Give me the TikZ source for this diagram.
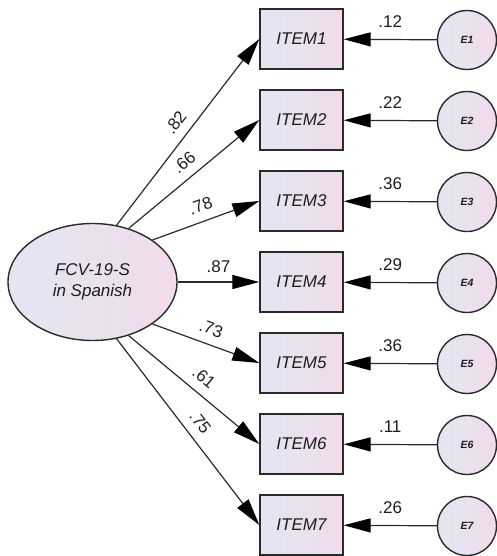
\documentclass[tikz,border=0pt]{standalone}
\usepackage{fontspec}
\setmainfont{Liberation Sans}
\usetikzlibrary{arrows.meta,shapes.geometric}
\definecolor{gL}{HTML}{E3E6F1}
\definecolor{gR}{HTML}{F1DBEC}
\definecolor{ln}{HTML}{2A2A2A}
\definecolor{tx}{HTML}{1E1E1E}
\begin{document}
\begin{tikzpicture}[x=1pt,y=-1pt,
  base/.style={draw=ln, left color=gL, right color=gR, line width=1.4pt, text=tx},
  lat/.style={base, ellipse, minimum width=169pt, minimum height=117pt, inner sep=0pt,
    align=center, font=\fontsize{17}{21}\selectfont\itshape},
  obs/.style={base, rectangle, minimum width=83pt, minimum height=60pt, inner sep=0pt,
    font=\fontsize{17}{20}\selectfont\itshape},
  err/.style={base, circle, minimum size=59pt, inner sep=0pt,
    font=\fontsize{10.5}{12}\selectfont\bfseries\itshape},
  arr/.style={draw=ln, line width=1.2pt, -{Triangle[length=27pt,width=14pt,black]}},
  lbl/.style={font=\fontsize{17}{20}\selectfont, inner sep=0pt, text=tx},
  lload/.style={lbl, sloped, above=9pt},
  lerr/.style={lbl, above=11.5pt}
]
\useasboundingbox (0,0) rectangle (496,556);
\node[lat] (F) at (92.5,282) {FCV-19-S\\in Spanish};
\foreach \i in {1,...,7}{
  \node[obs] (I\i) at (301.5,{39+81*(\i-1)}) {ITEM\i};
  \node[err] (E\i) at (467,{40+81*(\i-1)}) {E\i};
}
\draw[arr] (E1) -- node[lerr]{.12} (I1);
\draw[arr] (E2) -- node[lerr]{.22} (I2);
\draw[arr] (E3) -- node[lerr]{.36} (I3);
\draw[arr] (E4) -- node[lerr]{.29} (I4);
\draw[arr] (E5) -- node[lerr]{.36} (I5);
\draw[arr] (E6) -- node[lerr]{.11} (I6);
\draw[arr] (E7) -- node[lerr]{.26} (I7);
\draw[arr] (F.67) -- node[lload]{.82} (I1.west);
\draw[arr] (F.56) -- node[lload]{.66} (I2.west);
\draw[arr] (F.35) -- node[lload]{.78} (I3.west);
\draw[arr] (F.0) -- node[lload]{.87} (I4.west);
\draw[arr] (F.-35) -- node[lload]{.73} (I5.west);
\draw[arr] (F.-56) -- node[lload]{.61} (I6.west);
\draw[arr] (F.-67) -- node[lload]{.75} (I7.west);
\end{tikzpicture}
\end{document}
